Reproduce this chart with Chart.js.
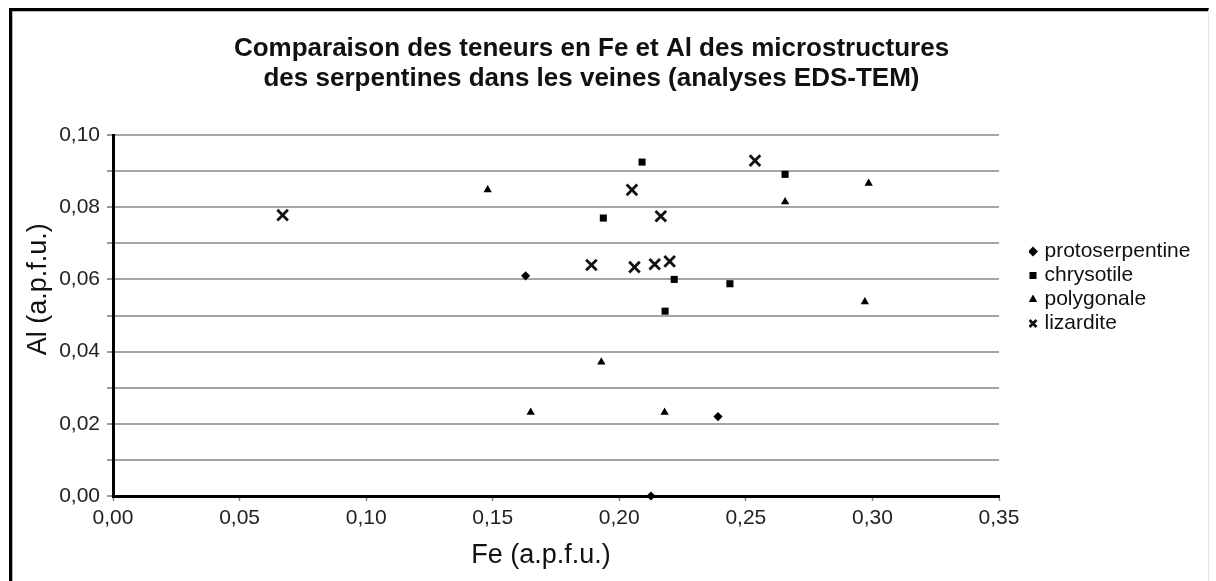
<!DOCTYPE html>
<html>
<head>
<meta charset="utf-8">
<script src="https://cdn.jsdelivr.net/npm/chart.js@4/dist/chart.umd.min.js"></script>
<style>
  body { margin: 0; background: #fff; }
  #wrap { position: relative; width: 1216px; height: 581px; overflow: hidden; }
  #serpChart { position: absolute; left: 0; top: 0; }
  #frame {
    position: absolute; left: 9px; top: 8px; width: 1200px; height: 620px;
    box-sizing: border-box;
    border-left: 3px solid #000; border-top: 3px solid #000; border-right: 1px solid #e6e6e6;
    box-shadow: inset 1px 1px 0 #b5b5b5;
    pointer-events: none;
  }
</style>
</head>
<body>
<div id="wrap">
  <canvas id="serpChart" width="1216" height="581"></canvas>
  <div id="frame"></div>
</div>
<script>
// Fe / Al contents (a.p.f.u.) by serpentine microstructure
const protoFe = [0.163, 0.239, 0.2125];
const protoAl = [0.061, 0.022, 0.000];

const chrysoFe = [0.209, 0.2655, 0.1937, 0.2217, 0.2437, 0.2181];
const chrysoAl = [0.0925, 0.0891, 0.0770, 0.0600, 0.0588, 0.0512];

const polyFe = [0.148, 0.165, 0.2985, 0.2655, 0.297, 0.1929, 0.2179];
const polyAl = [0.0848, 0.0232, 0.0866, 0.0815, 0.0538, 0.0371, 0.0232];

const lizFe = [0.067, 0.2536, 0.205, 0.2164, 0.189, 0.206, 0.214, 0.2199];
const lizAl = [0.0778, 0.0929, 0.0848, 0.0775, 0.0640, 0.0634, 0.0642, 0.0650];

const seriesNames = ['protoserpentine', 'chrysotile', 'polygonale', 'lizardite'];
const titleLines = [
  'Comparaison des teneurs en Fe et Al des microstructures',
  'des serpentines dans les veines (analyses EDS-TEM)'
];
// axis titles sit a little off the plot centre, padded with spaces
const xTitle = 'Fe (a.p.f.u.)' + ' '.repeat(4);
const yTitle = ' '.repeat(7) + 'Al (a.p.f.u.)';

const FONT = '"Liberation Sans", Arial, sans-serif';
const fmt = v => v.toFixed(2).replace('.', ',');
const pts = (xs, ys) => xs.map((x, i) => ({ x: x, y: ys[i] }));

// move legend and title after layout, chart area stays where the layout put it
const placeBlocks = {
  id: 'placeBlocks',
  afterLayout(chart) {
    const ca = chart.chartArea;
    const lg = chart.legend;
    lg.left = ca.right + 30;
    lg.right = chart.width;
    lg.width = lg.right - lg.left;
    lg.top = ca.top + 103;
    lg.bottom = lg.top + 170;
    lg.height = 170;
    const tb = chart.titleBlock;
    tb.left += 12;
    tb.right += 12;
  }
};

const ctx = document.getElementById('serpChart').getContext('2d');

new Chart(ctx, {
  type: 'scatter',
  data: {
    datasets: [{
      label: seriesNames[0],
      data: pts(protoFe, protoAl),
      pointStyle: 'rectRot',
      pointRadius: 4.6,
      backgroundColor: '#000',
      borderColor: '#000',
      borderWidth: 0
    }, {
      label: seriesNames[1],
      data: pts(chrysoFe, chrysoAl),
      pointStyle: 'rect',
      pointRadius: 5,
      backgroundColor: '#000',
      borderColor: '#000',
      borderWidth: 0
    }, {
      label: seriesNames[2],
      data: pts(polyFe, polyAl),
      pointStyle: 'triangle',
      pointRadius: 4.8,
      backgroundColor: '#000',
      borderColor: '#000',
      borderWidth: 0
    }, {
      label: seriesNames[3],
      data: pts(lizFe, lizAl),
      pointStyle: 'crossRot',
      pointRadius: 7.5,
      backgroundColor: '#111',
      borderColor: '#111',
      borderWidth: 2.8
    }]
  },
  options: {
    responsive: false,
    animation: false,
    events: [],
    clip: false,
    layout: { padding: { left: 10, right: 67, top: 0, bottom: 0 } },
    plugins: {
      title: {
        display: true,
        text: titleLines,
        color: '#111',
        font: { family: FONT, size: 26, weight: 'bold', lineHeight: 1.154 },
        padding: { top: 34, bottom: 41 }
      },
      legend: {
        position: 'right',
        align: 'start',
        maxWidth: 150,
        labels: {
          usePointStyle: true,
          boxWidth: 2,
          boxHeight: 7,
          padding: 3,
          color: '#111',
          font: { family: FONT, size: 21 }
        }
      },
      tooltip: { enabled: false }
    },
    scales: {
      x: {
        type: 'linear',
        min: 0,
        max: 0.35,
        ticks: {
          stepSize: 0.05,
          callback: v => fmt(v),
          color: '#222',
          font: { family: FONT, size: 21 },
          padding: 5,
          maxRotation: 0,
          autoSkip: false
        },
        grid: { drawOnChartArea: false, drawTicks: true, tickLength: 5, tickColor: '#888', tickWidth: 1.5 },
        border: { color: '#000', width: 3 },
        title: {
          display: true,
          text: xTitle,
          color: '#111',
          font: { family: FONT, size: 27 },
          padding: { top: 0, bottom: 9 }
        },
        afterFit: s => { s.height = 85; }
      },
      y: {
        type: 'linear',
        min: 0,
        max: 0.1,
        ticks: {
          stepSize: 0.01,
          callback: v => (Math.round(v * 100) % 2 === 0 ? fmt(v) : ''),
          color: '#222',
          font: { family: FONT, size: 21 },
          padding: 7,
          autoSkip: false
        },
        grid: { color: '#a5a5a5', lineWidth: 2, tickLength: 6, tickColor: '#777', tickWidth: 1.5 },
        border: { color: '#000', width: 3 },
        title: {
          display: true,
          text: yTitle,
          color: '#111',
          font: { family: FONT, size: 27 },
          padding: { top: 12, bottom: 0 }
        },
        afterFit: s => { s.width = 103; }
      }
    }
  },
  plugins: [placeBlocks]
});
</script>
</body>
</html>
